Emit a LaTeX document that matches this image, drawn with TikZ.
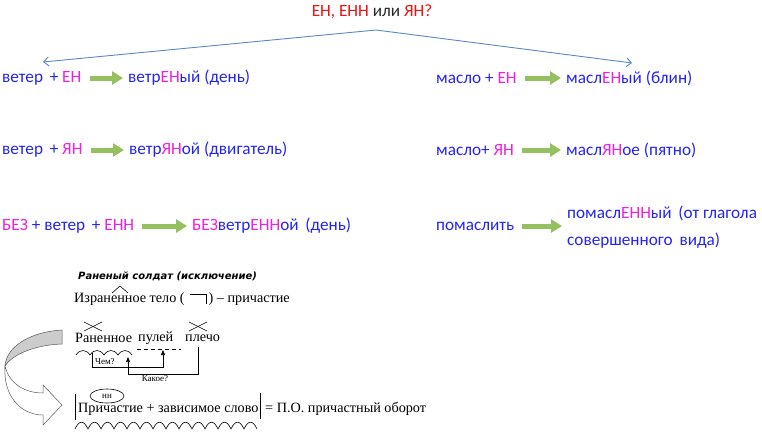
\documentclass[tikz,border=0pt]{standalone}
\usepackage{fontspec}
\setmainfont{Liberation Serif}
\newfontfamily\calfont{Carlito}
\newfontfamily\handfont{DejaVu Sans}
\usetikzlibrary{arrows.meta,shapes.geometric}
\definecolor{blueT}{HTML}{2424F2}
\definecolor{magT}{HTML}{F020E0}
\definecolor{redT}{HTML}{EE1111}
\definecolor{lineB}{HTML}{5B87C5}
\definecolor{garr}{HTML}{94C060}
\newcommand\mg[1]{\textcolor{magT}{#1}}
\begin{document}
\begin{tikzpicture}[x=1pt,y=-1pt,
  ct/.style={font=\calfont\fontsize{17.2}{27}\selectfont, text=blueT, inner sep=0pt, anchor=west},
  garrow/.style={line width=5pt, draw=garr, -{Triangle[length=11pt,width=13pt]}, shorten <=8pt, shorten >=5pt},
  bline/.style={draw=lineB, line width=0.9pt, -{Straight Barb[length=5pt,width=9pt]}},
  tm/.style={font=\fontsize{14.2}{16}\selectfont, inner sep=0pt, anchor=west},
  small/.style={font=\fontsize{9}{10}\selectfont, inner sep=0pt},
  conn/.style={draw, line width=0.6pt},
  pen/.style={draw, line width=0.6pt}
]
\useasboundingbox (0,0) rectangle (762,432);

% title and branches
\node[ct, anchor=center] (title) at (372,12) {\textcolor{redT}{ЕН, ЕНН} \textcolor{black!85}{или} \textcolor{redT}{ЯН?}};
\coordinate (apex) at (376,30);
\coordinate (lt) at (43,62);
\coordinate (rt) at (632,63);
\draw[bline] (apex) -- (lt);
\draw[bline] (apex) -- (rt);

% row 1
\node[ct] (a1) at (2,78) {ветер\, + \mg{ЕН}};
\node[ct] (b1) at (128,78) {ветр\mg{ЕН}ый (день)};
\draw[garrow] (a1) -- (b1);
\node[ct] (c1) at (436,78) {масло + \mg{ЕН}};
\node[ct] (d1) at (566,78) {масл\mg{ЕН}ый (блин)};
\draw[garrow] (c1) -- (d1);

% row 2
\node[ct] (a2) at (2,150) {ветер\, + \mg{ЯН}};
\node[ct] (b2) at (129,150) {ветр\mg{ЯН}ой (двигатель)};
\draw[garrow] (a2) -- (b2);
\node[ct] (c2) at (436,150) {масло+ \mg{ЯН}};
\node[ct] (d2) at (566,150) {масл\mg{ЯН}ое (пятно)};
\draw[garrow] (c2) -- (d2);

% row 3
\node[ct] (a3) at (2,226) {\mg{БЕЗ} + ветер\, + \mg{ЕНН}};
\node[ct] (b3) at (192,226) {\mg{БЕЗ}ветр\mg{ЕНН}ой\, (день)};
\draw[garrow] (a3) -- (b3);
\node[ct] (c3) at (436,226) {помаслить};
\node[ct, align=left] (d3) at (567,227) {помасл\mg{ЕНН}ый\, (от глагола\\совершенного\, вида)};
\draw[garrow] (c3) -- (c3.east -| d3.west);

% bottom part
\node[font=\handfont\bfseries\itshape\fontsize{10}{12}\selectfont, anchor=west, inner sep=0pt] (sold) at (78,276) {Раненый солдат (исключение)};
\node[tm] (izr) at (74,299) {Израненное тело (\hspace{24pt}) – причастие};
\draw[pen] (112,293) -- (120,286) -- (128,293);
\draw[pen] (190,294) -- (206,294) -- (206,304);

\node[tm] (ran) at (75,338) {Раненное};
\node[tm] (pul) at (138,338) {пулей};
\node[tm] (ple) at (185,338) {плечо};
\draw[pen] (84,322) -- (102,331);
\draw[pen] (84,331) -- (102,322);
\draw[pen] (189,322) -- (207,331);
\draw[pen] (189,331) -- (207,322);
\draw[pen] (76,355) \foreach \i in {1,...,4} { .. controls +(4,-6) and +(-4,-6) .. ++(14,0) };
\draw[pen, dash pattern=on 4pt off 3pt] (137,349) -- (181,349);

\coordinate (q1s) at (92,353);
\coordinate (q1t) at (163,350);
\coordinate (q2s) at (198,347);
\coordinate (q2t) at (128,357);
\draw[conn, -{Triangle[length=5pt,width=4pt]}] (q1s) -- (92,367) -| (q1t);
\draw[conn, -{Triangle[length=5pt,width=4pt]}] (q2s) -- (198,374) -| (q2t);
\node[small, anchor=west] (chem) at (95,362) {Чем?};
\node[small, anchor=north] (kak) at (155,375) {Какое?};

% curved arrow
\draw[line width=0.5pt, draw=black!65, fill=black!20]
  (62,330) .. controls (28,332) and (6,348) .. (5,366)
  .. controls (11,356) and (32,345) .. (62,344) -- cycle;
\draw[line width=0.5pt, draw=black!65, fill=white]
  (5,366) .. controls (3,395) and (20,415) .. (43,415)
  -- (43,425) -- (62,405) -- (43,385) -- (43,393)
  .. controls (24,393) and (9,383) .. (5,366) -- cycle;

% participle phrase
\node[ellipse, draw, line width=0.6pt, minimum width=34pt, minimum height=14pt, inner sep=0pt, font=\fontsize{9}{10}\selectfont] (nn) at (107,396) {нн};
\node[tm] (prich) at (78,409) {Причастие + зависимое слово};
\node[tm] (po) at (265,409) {= П.О. причастный оборот};
\coordinate (lb1) at (75,394);
\coordinate (lb2) at (75,420);
\coordinate (rb1) at (260,393);
\coordinate (rb2) at (260,419);
\draw[pen] (lb1) -- (lb2);
\draw[pen] (rb1) -- (rb2);
\draw[pen] (75,429) \foreach \i in {1,...,14} { .. controls +(4,-9) and +(-4,-9) .. ++(13,0) };
\end{tikzpicture}
\end{document}
